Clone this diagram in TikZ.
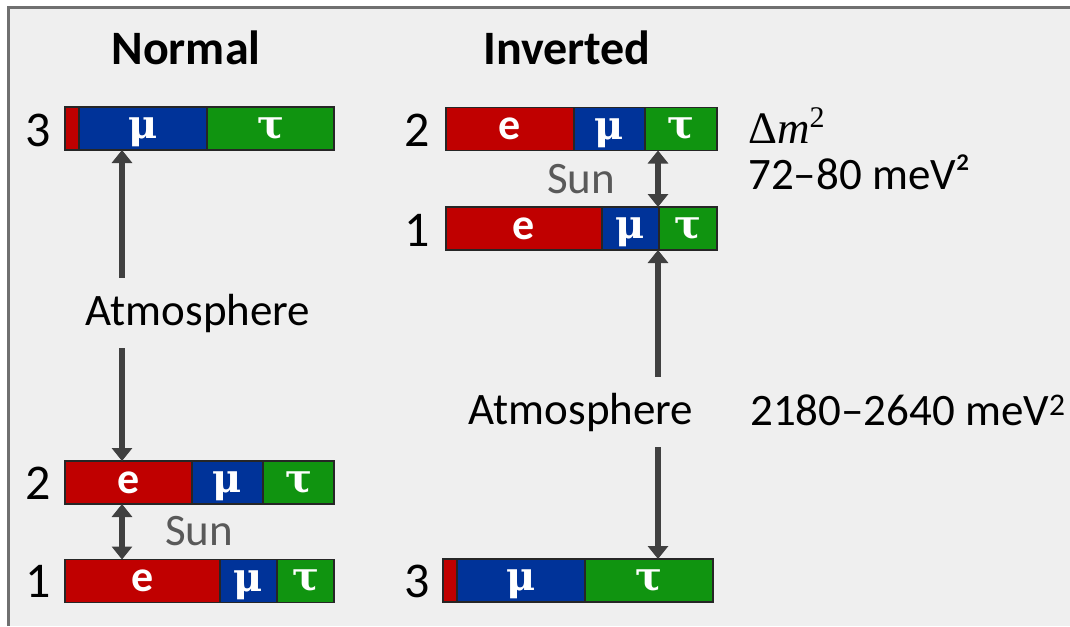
\documentclass[tikz,border=0pt]{standalone}
\usepackage{fontspec}
\setmainfont{Carlito}
\newfontfamily\grk{DejaVu Serif}
\newfontfamily\cmath{Liberation Serif}
\usetikzlibrary{arrows.meta,calc}
\definecolor{nred}{HTML}{C00000}
\definecolor{nblue}{HTML}{003399}
\definecolor{ngreen}{HTML}{109410}
\definecolor{bggray}{HTML}{EFEFEF}
\definecolor{framegray}{HTML}{707070}
\definecolor{arrgray}{HTML}{404040}
\definecolor{sungray}{HTML}{595959}
\newcommand{\fsz}[1]{\fontsize{#1}{#1}\selectfont}
\newcommand{\nubar}[8]{%
  \node[seg,fill=nred,minimum width=#4] (#1r) at (#2,#3) {#7};
  \node[seg,fill=nblue,minimum width=#5] (#1b) at (#1r.east) {\grk\bfseries\fsz{40}\raisebox{-4pt}[\height][\depth]{μ}};
  \node[seg,fill=ngreen,minimum width=#6] (#1g) at (#1b.east) {\grk\bfseries\fsz{40}τ};
}
\begin{document}
\begin{tikzpicture}[x=1pt,y=-1pt,
  seg/.style={draw=black!85, line width=1.2pt, minimum height=43pt, inner sep=0pt,
    outer sep=0pt, anchor=west, text=white, font=\fsz{44}},
  lbl/.style={anchor=base, font=\fsz{50}, text=black, inner sep=0pt},
  ttl/.style={anchor=base, font=\fsz{48}\bfseries, text=black, inner sep=0pt},
  atm/.style={font=\fsz{45}, minimum height=70pt, inner sep=0pt},
  sun/.style={anchor=base, font=\fsz{45}, text=sungray, inner sep=0pt},
  val/.style={anchor=base west, font=\fsz{45}, inner sep=0pt},
  arr/.style={draw=arrgray, line width=5.5pt, -{Triangle[width=20pt,length=13pt]}},
  darr/.style={draw=arrgray, line width=5.5pt, {Triangle[width=20pt,length=13pt]}-{Triangle[width=20pt,length=13pt]}}
]
\useasboundingbox (0,0) rectangle (1070,626);
\fill[white] (0,0) rectangle (1070,626);
\fill[bggray] (8,8) rectangle (1070,626);
\draw[framegray, line width=3pt] (8,626) -- (8,8) -- (1070,8);

% titles
\node[ttl] (tN) at (186,64) {Normal};
\node[ttl] (tI) at (567,64) {Inverted};

% Normal ordering bars
\nubar{nt}{65}{128.5}{14}{128}{127}{}{}{}
\nubar{nm}{65}{482.5}{127}{71}{71}{\bfseries e}{}{}
\nubar{nl}{65}{581}{155}{57}{57}{\bfseries e}{}{}
\node[lbl] (dN3) at (38,146) {3};
\node[lbl] (dN2) at (38,499) {2};
\node[lbl] (dN1) at (38,597) {1};

% Inverted ordering bars
\nubar{it}{446}{129}{128}{71}{72}{\bfseries e}{}{}
\nubar{im}{446}{228.5}{156}{57}{58}{\bfseries e}{}{}
\nubar{il}{443}{580.5}{14}{128}{128}{}{}{}
\node[lbl] (dI2) at (417,146) {2};
\node[lbl] (dI1) at (417,246) {1};
\node[lbl] (dI3) at (417,597) {3};

% labels
\node[atm] (atmN) at (198,313) {Atmosphere};
\node[atm] (atmI) at (581,412) {Atmosphere};
\node[sun] (sunN) at (199,545) {Sun};
\node[sun] (sunI) at (581,193) {Sun};

% arrows
\coordinate (axN) at (122,0);
\coordinate (axI) at (658,0);
\draw[arr] (atmN.north -| axN) -- (ntb.south -| axN);
\draw[arr] (atmN.south -| axN) -- (nmr.north -| axN);
\draw[darr] (nmr.south -| axN) -- (nlr.north -| axN);
\draw[darr] (itg.south -| axI) -- (img.north -| axI);
\draw[arr] (atmI.north -| axI) -- (img.south -| axI);
\draw[arr] (atmI.south -| axI) -- (ilg.north -| axI);

% values
\node[val] (dm) at (748,143) {{\cmath Δ\textit{m}}\raisebox{16pt}{\fsz{30}\cmath 2}};
\node[val] (v1) at (748,189) {72–80 meV²};
\node[val] (v2) at (750,425) {2180–2640 meV\textsuperscript{2}};
\end{tikzpicture}
\end{document}
